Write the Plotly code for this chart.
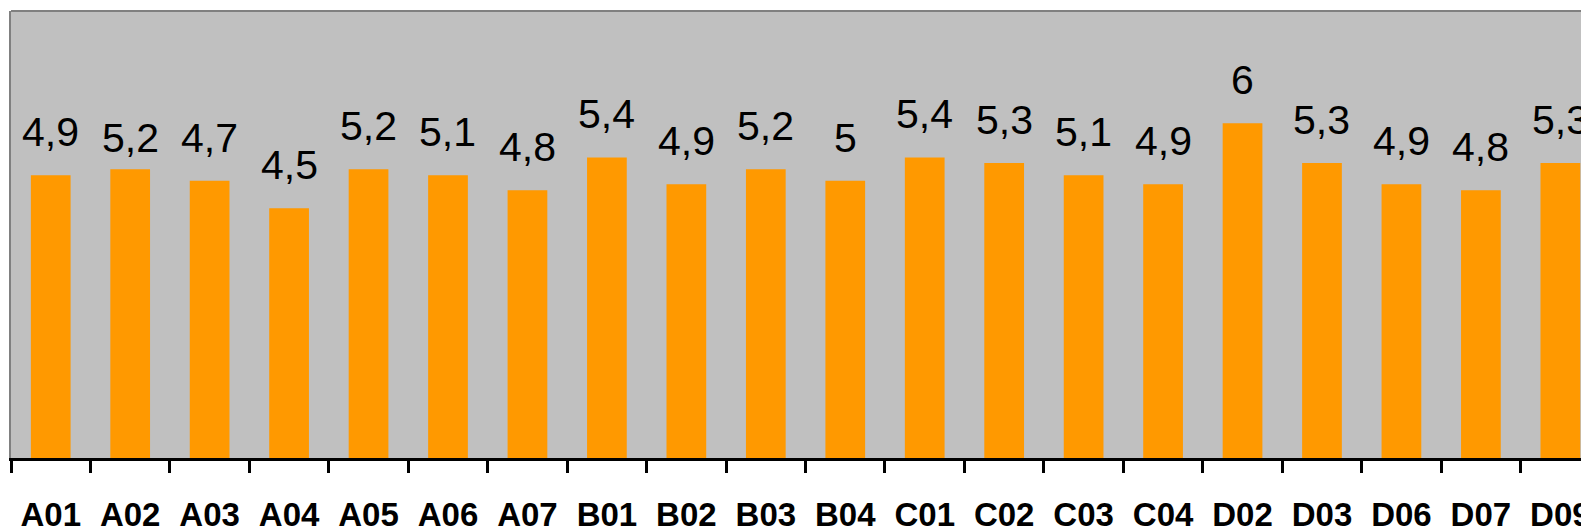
import plotly.graph_objects as go

categories = ["A01", "A02", "A03", "A04", "A05", "A06", "A07", "B01", "B02", "B03",
              "B04", "C01", "C02", "C03", "C04", "D02", "D03", "D06", "D07", "D09"]
values = [5.06, 5.17, 4.96, 4.47, 5.17, 5.06, 4.79, 5.38, 4.90, 5.17,
          4.96, 5.38, 5.28, 5.06, 4.90, 5.99, 5.28, 4.90, 4.79, 5.28]
labels = ["4,9", "5,2", "4,7", "4,5", "5,2", "5,1", "4,8", "5,4", "4,9", "5,2",
          "5", "5,4", "5,3", "5,1", "4,9", "6", "5,3", "4,9", "4,8", "5,3"]

# per-label vertical offsets (style only)
label_dy = [0] * len(categories)
label_dy[1] = -12

fig = go.Figure()
fig.add_trace(go.Bar(
    x=categories, y=values,
    marker=dict(color="#FF9900", line=dict(width=0)),
    width=0.5,
    hoverinfo="skip",
))

for i, (c, v, t) in enumerate(zip(categories, values, labels)):
    fig.add_annotation(
        x=c, y=v, text=t, showarrow=False,
        yanchor="bottom", xanchor="center",
        yshift=18 + label_dy[i],
        font=dict(family="Liberation Sans, Arial, sans-serif", size=41, color="#000000"),
    )

fig.update_layout(
    width=1581, height=528,
    margin=dict(l=11, r=0, t=11, b=70, autoexpand=False),
    paper_bgcolor="#FFFFFF",
    plot_bgcolor="#C0C0C0",
    showlegend=False,
    bargap=0.5,
    xaxis=dict(
        type="category",
        range=[-0.5, 19.26],
        automargin=False,
        ticklabeloverflow="allow",
        showline=True, linecolor="#000000", linewidth=2.5,
        ticks="outside", tickson="boundaries", ticklen=12, tickwidth=2.5, tickcolor="#000000",
        tickfont=dict(family="Liberation Sans, Arial, sans-serif", size=33, color="#000000", weight="bold"),
        ticklabelstandoff=26,
        showgrid=False, zeroline=False,
    ),
    yaxis=dict(
        range=[0, 8],
        automargin=False,
        showline=True, linecolor="#808080", linewidth=2,
        showticklabels=False, ticks="",
        showgrid=False, zeroline=False,
    ),
    shapes=[dict(type="line", xref="paper", yref="paper", x0=0, x1=1, y0=1, y1=1,
                 line=dict(color="#808080", width=2))],
)

fig.write_html(
    "out.html",
    config={"displayModeBar": False},
    post_script="document.body.style.margin='0';",
)
